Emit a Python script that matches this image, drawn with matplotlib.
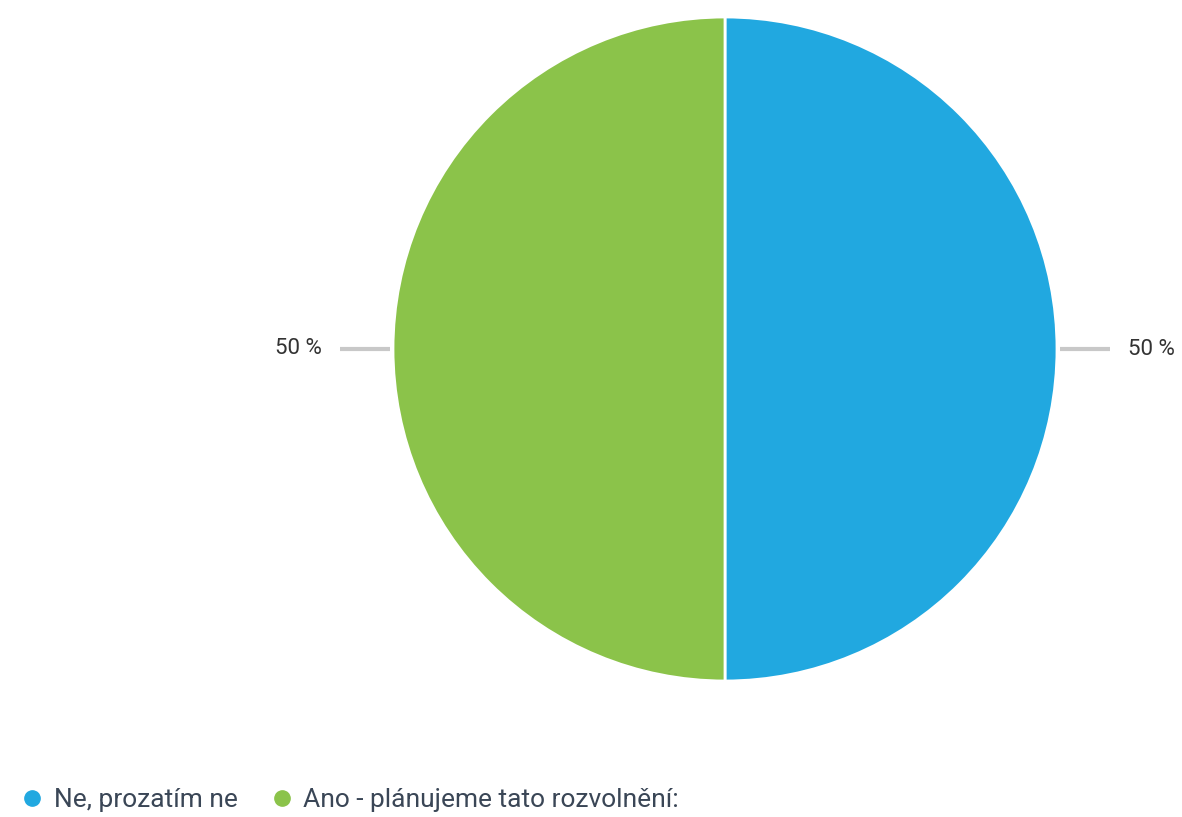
import numpy as np
import matplotlib.pyplot as plt
from matplotlib.lines import Line2D

labels = ["Ne, prozatím ne", "Ano - plánujeme tato rozvolnění:"]
values = [50, 50]
colors = ["#21a8e0", "#8bc34a"]

W, H = 1182, 817
fig = plt.figure(figsize=(W / 100, H / 100), dpi=100)
ax = fig.add_axes([0, 0, 1, 1])

cx, cy, r = 725, H - 349, 332
wedges, _ = ax.pie(values, colors=colors, center=(cx, cy), radius=r,
                   startangle=90, counterclock=False,
                   wedgeprops=dict(edgecolor="white", linewidth=2))
ax.set_xlim(0, W)
ax.set_ylim(0, H)
ax.set_aspect("equal")
ax.axis("off")

# leader lines and percentage labels
total = sum(values)
for w, v in zip(wedges, values):
    ang = np.deg2rad((w.theta1 + w.theta2) / 2)
    dx, dy = np.cos(ang), np.sin(ang)
    side = 1 if dx > 0 else -1
    x0 = cx + dx * (r + 3)
    y0 = cy + dy * (r + 3)
    x1 = x0 + side * 50
    ax.plot([x0, x1], [y0, y0], color="#c8c8c8", lw=3, solid_capstyle="butt")
    ax.text(x1 + side * 18, y0, f"{v / total * 100:.0f} %",
            ha="left" if side > 0 else "right", va="center",
            fontsize=16, color="#333333", family="Roboto")

# legend along the bottom
handles = [Line2D([], [], marker="o", ls="", markersize=11,
                  markerfacecolor=c, markeredgecolor=c) for c in colors]
fig.legend(handles, labels, loc="lower left",
           bbox_to_anchor=(6 / W, -6 / H),
           borderaxespad=0, ncol=2, frameon=False, handletextpad=0.25,
           columnspacing=1.1, handlelength=1.15,
           prop=dict(family="Roboto", size=19), labelcolor="#3a4656")

fig.savefig("out.png", dpi=100)
